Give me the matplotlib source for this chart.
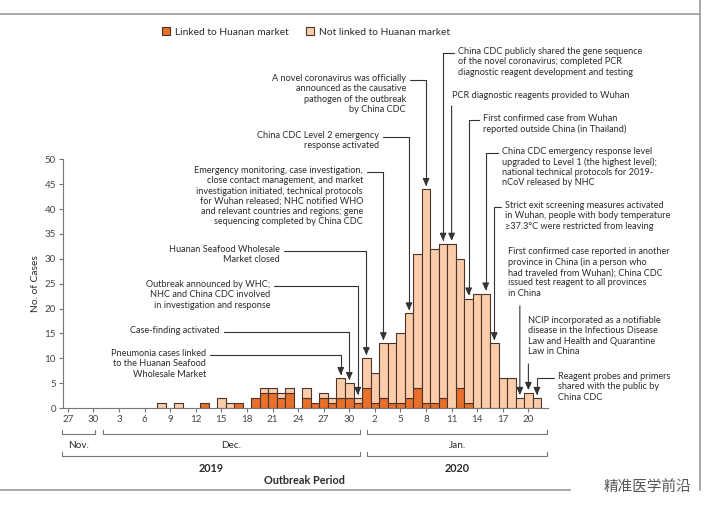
import numpy as np
import matplotlib
matplotlib.use("Agg")
import matplotlib.pyplot as plt
import matplotlib.transforms as mtransforms
from matplotlib.patches import Patch
from matplotlib.lines import Line2D

plt.rcParams['font.family'] = ['Lato', 'DejaVu Sans']

# --- data: daily onset counts, Nov 27 2019 .. Jan 21 2020 ---
day_labels = ['27', '28', '29', '30'] + [str(d) for d in range(1, 32)] + [str(d) for d in range(1, 22)]
linked = [0, 0, 0, 0,
          0, 0, 0, 0, 0, 0, 0, 0, 0, 0, 0, 0, 1, 0, 0, 0, 1, 0, 2, 3, 3, 2, 3, 0, 2, 1, 2, 1, 2, 2, 1,
          4, 1, 2, 1, 1, 2, 4, 1, 1, 2, 0, 4, 1, 0, 0, 0, 0, 0, 0, 0, 0]
not_linked = [0, 0, 0, 0,
              0, 0, 0, 0, 0, 0, 0, 1, 0, 1, 0, 0, 0, 0, 2, 1, 0, 0, 0, 1, 1, 1, 1, 0, 2, 0, 1, 1, 4, 3, 1,
              6, 6, 11, 12, 14, 17, 27, 43, 31, 31, 33, 26, 21, 23, 23, 13, 6, 6, 2, 3, 2]

# events: (text, target day index, side, text x px, first-line y px)
events = [
    ("Pneumonia cases linked\nto the Huanan Seafood\nWholesale Market", 32, 'L', 206, 355),
    ("Case-finding activated", 33, 'L', 220, 332),
    ("Outbreak announced by WHC;\nNHC and China CDC involved\nin investigation and response", 34, 'L', 270, 286),
    ("Huanan Seafood Wholesale\nMarket closed", 35, 'L', 280, 251),
    ("Emergency monitoring, case investigation,\nclose contact management, and market\n"
     "investigation initiated, technical protocols\nfor Wuhan released; NHC notified WHO\n"
     "and relevant countries and regions; gene\nsequencing completed by China CDC", 37, 'L', 363, 172),
    ("China CDC Level 2 emergency\nresponse activated", 40, 'L', 379, 137),
    ("A novel coronavirus was officially\nannounced as the causative\npathogen of the outbreak\nby China CDC", 42, 'L', 406, 80),
    ("China CDC publicly shared the gene sequence\nof the novel coronavirus; completed PCR\n"
     "diagnostic reagent development and testing", 44, 'R', 458, 53),
    ("PCR diagnostic reagents provided to Wuhan", 45, 'V', 452, 97),
    ("First confirmed case from Wuhan\nreported outside China (in Thailand)", 47, 'R', 483, 120),
    ("China CDC emergency response level\nupgraded to Level 1 (the highest level);\n"
     "national technical protocols for 2019-\nnCoV released by NHC", 49, 'R', 502, 153),
    ("Strict exit screening measures activated\nin Wuhan, people with body temperature\n"
     "≥37.3°C were restricted from leaving", 50, 'R', 505, 207),
    ("First confirmed case reported in another\nprovince in China (in a person who\n"
     "had traveled from Wuhan); China CDC\nissued test reagent to all provinces\nin China", 53, 'V', 508, 253),
    ("NCIP incorporated as a notifiable\ndisease in the Infectious Disease\nLaw and Health and Quarantine\nLaw in China", 54, 'V', 528, 322),
    ("Reagent probes and primers\nshared with the public by\nChina CDC", 55, 'R', 558, 378),
]

W, H = 707, 518
dark_c = '#E8702A'
light_c = '#FACCAA'
edge_c = '#4a3328'
txt_c = '#2b2b2b'
fs = 6.6

fig = plt.figure(figsize=(W / 100, H / 100), dpi=100, facecolor='white')
ax = fig.add_axes([62.7 / W, 1 - 408 / H, (548 - 62.7) / W, (408 - 159.3) / H])

def fx(px):
    return px / W

def fy(py):
    return 1 - py / H

x = np.arange(len(day_labels))
lk = np.array(linked)
nl = np.array(not_linked)
m = lk > 0
ax.bar(x[m], lk[m], width=1.0, color=dark_c, edgecolor=edge_c, linewidth=0.8)
m2 = nl > 0
ax.bar(x[m2], nl[m2], width=1.0, bottom=lk[m2], color=light_c, edgecolor=edge_c, linewidth=0.8)

ax.set_xlim(-0.6, 56.3)
ax.set_ylim(0, 50)
ax.set_yticks(range(0, 51, 5))
ax.set_xticks(x[::3])
ax.set_xticklabels(day_labels[::3])
for s in ['top', 'right']:
    ax.spines[s].set_visible(False)
for s in ['left', 'bottom']:
    ax.spines[s].set_color('#777777')
    ax.spines[s].set_linewidth(0.8)
ax.tick_params(axis='both', colors='#777777', labelcolor='#444444', labelsize=fs + 0.4, length=3, width=0.8, pad=2)
ax.set_ylabel('No. of Cases', fontsize=fs + 0.8, color=txt_c, labelpad=3)

# month / year brackets below the axis
tr = mtransforms.blended_transform_factory(ax.transData, fig.transFigure)
def bracket(x0, x1, ypx, label, lpx, bold=False):
    yb = fy(ypx)
    yt = fy(ypx - 4)
    fig.add_artist(Line2D([x0, x0, x1, x1], [yt, yb, yb, yt], transform=tr, color='#777777', lw=0.8))
    fig.text((x0 + x1) / 2, fy(lpx), label, transform=tr, ha='center', va='center',
             fontsize=fs + 0.6 + (0.6 if bold else 0), color=txt_c, fontweight='bold' if bold else 'normal')

bracket(-0.65, 3.2, 434, 'Nov.', 445)
bracket(4.15, 34.2, 434, 'Dec.', 445)
bracket(35.1, 56.2, 434, 'Jan.', 445)
bracket(-0.65, 34.2, 456, '2019', 468, bold=True)
bracket(35.1, 56.2, 456, '2020', 468, bold=True)
fig.text(fx(304), fy(480), 'Outbreak Period', ha='center', va='center', fontsize=fs + 1.2,
         fontweight='bold', color=txt_c)

# legend
handles = [Patch(facecolor=dark_c, edgecolor=edge_c, lw=0.8, label='Linked to Huanan market'),
           Patch(facecolor=light_c, edgecolor=edge_c, lw=0.8, label='Not linked to Huanan market')]
fig.legend(handles=handles, loc='center', bbox_to_anchor=(fx(306), fy(32)), ncol=2, frameon=False,
           fontsize=fs + 0.8, handlelength=0.8, handleheight=0.8, handletextpad=0.5, columnspacing=1.6,
           labelcolor=txt_c)

# event annotations
total = lk + nl
for text, d, side, tx, ty in events:
    top = total[d]
    if side == 'L':
        fig.text(fx(tx), fy(ty - 6), text, ha='right', va='top', fontsize=fs, color=txt_c,
                 multialignment='right', linespacing=1.18)
        start = (fx(tx + 4), fy(ty))
        cs = 'angle,angleA=0,angleB=90,rad=0'
    elif side == 'R':
        fig.text(fx(tx), fy(ty - 6), text, ha='left', va='top', fontsize=fs, color=txt_c,
                 linespacing=1.18)
        start = (fx(tx - 4), fy(ty))
        cs = 'angle,angleA=0,angleB=90,rad=0'
    else:
        fig.text(fx(tx), fy(ty - 6), text, ha='left', va='top', fontsize=fs, color=txt_c,
                 linespacing=1.18)
        n = text.count('\n') + 1
        xt = ax.transData.transform((d, 0))[0] / W
        start = (xt, fy(ty + 11 * n - 2))
        cs = 'arc3,rad=0'
    ax.annotate('', xy=(d, top + 0.6), xycoords='data', xytext=start, textcoords='figure fraction',
                arrowprops=dict(arrowstyle='-|>,head_length=0.45,head_width=0.2', color='#333333',
                                lw=0.8, connectionstyle=cs, shrinkA=0, shrinkB=0),
                annotation_clip=False)

# frame lines and watermark
fig.add_artist(Line2D([0, fx(700)], [fy(14), fy(14)], color='#999999', lw=1.2))
fig.add_artist(Line2D([fx(700), fx(700)], [fy(0), fy(490)], color='#999999', lw=1.2))
fig.add_artist(Line2D([0, fx(570)], [fy(490), fy(490)], color='#999999', lw=1.2))
fig.text(fx(604), fy(487), '精准医学前沿', ha='left', va='center', fontsize=10.5, color='#555555',
         family=['Noto Sans CJK SC', 'DejaVu Sans'])

fig.savefig('out.png', dpi=100, facecolor='white')
